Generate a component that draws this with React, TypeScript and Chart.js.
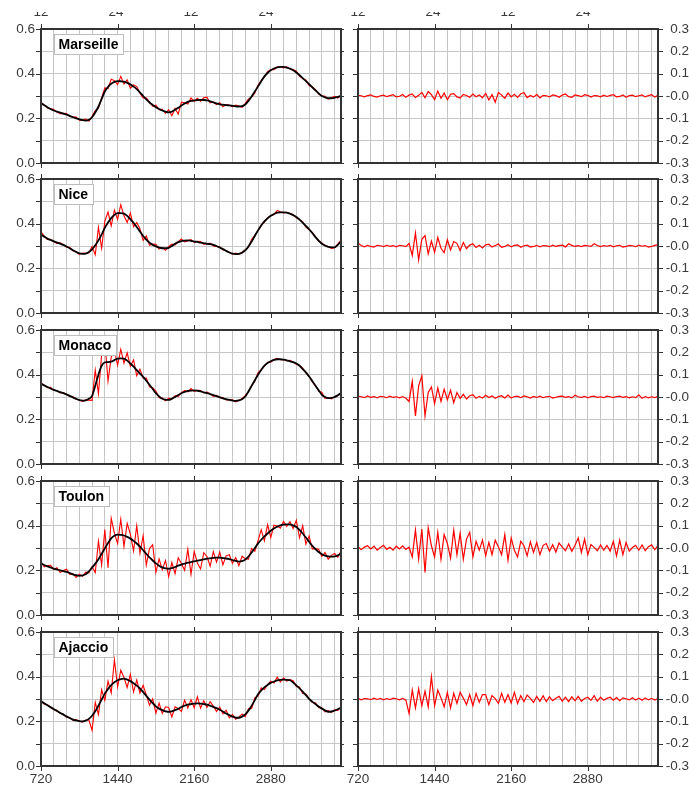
import React, { useEffect, useRef } from 'react';
import { Chart, registerables } from 'chart.js';

Chart.register(...registerables);

// ---------------- data ----------------
const STATIONS = ['Marseille', 'Nice', 'Monaco', 'Toulon', 'Ajaccio'];
const X_MIN = 720;
const X_MAX = 3540;
const X_STEP = 30;
const HOURS = Array.from({ length: 95 }, (_, i) => X_MIN + X_STEP * i);
const BOTTOM_TICK_VALUES = [720, 1440, 2160, 2880];
const TOP_TICK_LABELS = ['12', '24', '12', '24'];
const LEFT_TICK_LABELS = ['0.0', '0.2', '0.4', '0.6'];
const RIGHT_TICK_LABELS = ['-0.3', '-0.2', '-0.1', '-0.0', '0.1', '0.2', '0.3'];

const SMOOTH_MARSEILLE = [
  0.268, 0.259, 0.25, 0.242, 0.235, 0.23, 0.226, 0.221, 0.217, 0.211,
  0.205, 0.2, 0.196, 0.192, 0.19, 0.193, 0.205, 0.226, 0.253, 0.287,
  0.32, 0.341, 0.355, 0.363, 0.367, 0.366, 0.364, 0.359, 0.352, 0.342,
  0.331, 0.316, 0.3, 0.285, 0.271, 0.26, 0.25, 0.242, 0.235, 0.23,
  0.227, 0.23, 0.238, 0.247, 0.257, 0.266, 0.274, 0.278, 0.28, 0.282,
  0.283, 0.282, 0.28, 0.276, 0.271, 0.267, 0.263, 0.261, 0.259, 0.258,
  0.256, 0.254, 0.253, 0.255, 0.262, 0.278, 0.298, 0.32, 0.343, 0.366,
  0.388, 0.403, 0.415, 0.423, 0.428, 0.43, 0.43, 0.427, 0.423, 0.415,
  0.405, 0.393, 0.38, 0.367, 0.353, 0.339, 0.325, 0.312, 0.3, 0.294,
  0.29, 0.29, 0.292, 0.296, 0.3,
];
const RESID_MARSEILLE = [
  0.003, 0.001, -0.004, 0.002, 0.005, -0.002, -0.005, 0.001, 0.004, -0.003,
  0.002, 0.006, -0.004, -0.001, 0.007, -0.006, 0.004, 0.009, -0.007, 0.003,
  0.016, -0.008, 0.02, 0.006, -0.016, 0.022, -0.01, 0.013, -0.017, 0.008,
  0.011, -0.004, -0.009, 0.007, 0.002, -0.006, 0.009, -0.003, 0.005, -0.008,
  0.012, -0.018, 0.006, -0.028, 0.016, 0.004, -0.01, 0.013, -0.004, 0.008,
  -0.006, 0.01, 0.015, -0.007, 0.002, -0.005, 0.007, -0.009, 0.003, 0.001,
  -0.004, 0.005, 0.002, -0.006, 0.004, 0.009, -0.003, -0.006, 0.005, 0.002,
  -0.003, 0.006, 0.003, -0.005, 0.002, 0.001, -0.004, 0.004, -0.002, 0.003,
  0.006, -0.004, -0.002, 0.005, -0.006, 0.002, 0.004, -0.003, 0.001, 0.005,
  -0.004, 0.002, 0.006, -0.005, 0.003,
];

const SMOOTH_NICE = [
  0.351, 0.342, 0.333, 0.327, 0.321, 0.316, 0.311, 0.305, 0.298, 0.29,
  0.281, 0.273, 0.267, 0.265, 0.266, 0.273, 0.285, 0.303, 0.325, 0.352,
  0.381, 0.405, 0.425, 0.439, 0.447, 0.447, 0.445, 0.435, 0.42, 0.404,
  0.385, 0.365, 0.345, 0.329, 0.315, 0.305, 0.298, 0.293, 0.29, 0.29,
  0.292, 0.3, 0.31, 0.317, 0.322, 0.324, 0.325, 0.323, 0.32, 0.318,
  0.315, 0.313, 0.31, 0.308, 0.305, 0.3, 0.293, 0.286, 0.278, 0.271,
  0.266, 0.264, 0.265, 0.27, 0.28, 0.298, 0.32, 0.345, 0.37, 0.392,
  0.41, 0.424, 0.435, 0.443, 0.449, 0.451, 0.451, 0.449, 0.445, 0.438,
  0.43, 0.418, 0.405, 0.39, 0.375, 0.358, 0.34, 0.324, 0.31, 0.302,
  0.296, 0.294, 0.294, 0.305, 0.32,
];
const RESID_NICE = [
  0.012, 0.002, -0.004, 0.003, -0.002, -0.005, 0.003, 0.001, -0.003, 0.004,
  -0.002, 0.002, -0.004, 0.003, 0.001, -0.003, 0.012, -0.042, 0.058, -0.062,
  0.03, 0.047, -0.035, 0.022, -0.028, 0.038, -0.01, -0.03, 0.028, -0.018,
  0.02, 0.012, -0.02, 0.016, -0.012, 0.004, 0.01, -0.007, 0.003, -0.009,
  0.005, 0.008, -0.005, 0.002, 0.009, -0.006, -0.002, 0.006, -0.004, 0.003,
  0.005, -0.006, 0.001, 0.004, -0.005, -0.002, 0.003, -0.004, 0.002, 0.001,
  -0.003, 0.004, -0.002, 0.002, 0.004, -0.004, 0.01, 0.003, -0.002, 0.002,
  -0.003, 0.003, 0.001, -0.002, 0.01, 0.002, -0.003, 0.002, -0.001, 0.003,
  -0.004, 0.001, 0.003, -0.005, -0.002, 0.003, 0.001, -0.003, 0.004, -0.001,
  0.002, -0.005, -0.002, 0.003, 0.006,
];

const SMOOTH_MONACO = [
  0.359, 0.352, 0.345, 0.338, 0.332, 0.327, 0.322, 0.317, 0.312, 0.305,
  0.298, 0.292, 0.286, 0.284, 0.285, 0.292, 0.305, 0.35, 0.4, 0.44,
  0.455, 0.456, 0.458, 0.465, 0.472, 0.473, 0.472, 0.463, 0.45, 0.436,
  0.42, 0.405, 0.39, 0.373, 0.355, 0.336, 0.317, 0.303, 0.292, 0.288,
  0.287, 0.292, 0.3, 0.309, 0.317, 0.323, 0.327, 0.329, 0.33, 0.328,
  0.325, 0.321, 0.317, 0.313, 0.308, 0.304, 0.299, 0.294, 0.29, 0.287,
  0.284, 0.283, 0.285, 0.29, 0.302, 0.325, 0.35, 0.375, 0.4, 0.421,
  0.44, 0.452, 0.46, 0.466, 0.469, 0.469, 0.467, 0.464, 0.46, 0.456,
  0.45, 0.44, 0.425, 0.41, 0.392, 0.372, 0.35, 0.33, 0.31, 0.3,
  0.295, 0.296, 0.3, 0.308, 0.317,
];
const RESID_MONACO = [
  0.004, 0.001, -0.003, 0.005, -0.002, 0.002, -0.004, 0.003, 0.001, -0.003,
  0.004, -0.002, 0.001, -0.004, 0.002, -0.006, -0.02, 0.07, -0.085, 0.05,
  0.095, -0.085, 0.02, 0.045, -0.03, 0.04, -0.02, 0.035, -0.012, 0.03,
  -0.025, 0.02, -0.006, 0.012, -0.009, 0.006, 0.01, -0.006, 0.003, -0.005,
  0.008, -0.002, 0.005, -0.006, 0.002, 0.006, -0.004, 0.009, -0.005, 0.002,
  0.004, -0.003, 0.005, 0.001, -0.005, 0.003, -0.002, 0.004, -0.003, 0.001,
  0.003, -0.005, -0.001, 0.003, 0.004, -0.002, 0.002, -0.004, 0.008, 0.001,
  -0.002, 0.003, -0.004, 0.002, 0.004, -0.002, 0.001, -0.003, 0.004, 0.001,
  -0.003, 0.002, 0.004, -0.002, 0.002, -0.004, 0.001, -0.003, 0.01, -0.006,
  0.002, -0.004, 0.001, -0.003, 0.004,
];

const SMOOTH_TOULON = [
  0.231, 0.224, 0.218, 0.213, 0.208, 0.204, 0.2, 0.197, 0.193, 0.188,
  0.182, 0.178, 0.175, 0.177, 0.182, 0.195, 0.212, 0.23, 0.25, 0.274,
  0.298, 0.322, 0.343, 0.355, 0.36, 0.359, 0.356, 0.35, 0.342, 0.332,
  0.32, 0.306, 0.29, 0.274, 0.258, 0.244, 0.231, 0.221, 0.213, 0.209,
  0.207, 0.21, 0.215, 0.221, 0.226, 0.23, 0.234, 0.237, 0.24, 0.243,
  0.246, 0.249, 0.252, 0.254, 0.256, 0.257, 0.257, 0.255, 0.253, 0.25,
  0.246, 0.242, 0.239, 0.241, 0.248, 0.262, 0.28, 0.3, 0.32, 0.337,
  0.352, 0.365, 0.377, 0.387, 0.395, 0.401, 0.405, 0.406, 0.406, 0.401,
  0.394, 0.381, 0.365, 0.347, 0.328, 0.31, 0.295, 0.282, 0.272, 0.266,
  0.262, 0.261, 0.262, 0.267, 0.275,
];
const RESID_TOULON = [
  0.006, -0.008, 0.004, 0.01, -0.004, 0.008, -0.01, 0.002, 0.012, -0.006,
  0.003, -0.01, 0.008, -0.004, 0.01, -0.006, 0.004, -0.04, 0.08, -0.05,
  0.085, -0.11, 0.09, 0.01, -0.04, 0.07, -0.05, 0.06, 0.02, -0.045,
  0.08, -0.03, 0.065, -0.05, 0.04, 0.07, -0.04, 0.03, -0.01, 0.035,
  -0.035, 0.025, -0.03, 0.035, 0.005, -0.03, 0.06, -0.055, 0.045, -0.01,
  -0.04, 0.03, 0.01, -0.035, 0.028, -0.02, 0.025, -0.03, 0.012, 0.02,
  -0.015, 0.015, -0.018, 0.022, 0.004, -0.012, 0.018, -0.015, 0.012, 0.045,
  -0.02, 0.04, -0.03, 0.015, 0.003, -0.012, 0.014, -0.01, 0.012, -0.014,
  0.03, -0.035, 0.035, -0.03, 0.025, -0.014, 0.002, 0.012, -0.01, 0.014,
  -0.012, 0.006, 0.014, -0.008, 0.012,
];

const SMOOTH_AJACCIO = [
  0.29, 0.281, 0.272, 0.263, 0.255, 0.246, 0.238, 0.23, 0.222, 0.215,
  0.208, 0.204, 0.201, 0.2, 0.203, 0.211, 0.225, 0.245, 0.27, 0.297,
  0.324, 0.345, 0.362, 0.375, 0.384, 0.389, 0.391, 0.387, 0.38, 0.371,
  0.36, 0.347, 0.331, 0.314, 0.297, 0.281, 0.267, 0.257, 0.25, 0.245,
  0.242, 0.245, 0.25, 0.256, 0.264, 0.27, 0.275, 0.277, 0.279, 0.28,
  0.279, 0.277, 0.275, 0.27, 0.265, 0.259, 0.252, 0.244, 0.235, 0.228,
  0.221, 0.217, 0.216, 0.221, 0.231, 0.248, 0.27, 0.295, 0.321, 0.338,
  0.352, 0.363, 0.372, 0.378, 0.383, 0.386, 0.387, 0.386, 0.384, 0.374,
  0.361, 0.348, 0.333, 0.317, 0.301, 0.288, 0.277, 0.266, 0.257, 0.249,
  0.243, 0.244, 0.248, 0.254, 0.261,
];
const RESID_AJACCIO = [
  0.003, -0.004, 0.002, 0.001, -0.003, 0.004, -0.002, 0.003, -0.004, 0.002,
  -0.003, 0.004, 0.001, -0.004, 0.003, -0.005, -0.065, 0.04, -0.04, 0.045,
  -0.03, 0.035, -0.035, 0.1, -0.03, 0.04, 0.005, -0.035, 0.03, -0.04,
  0.025, -0.02, 0.03, 0.004, -0.025, 0.02, -0.03, 0.025, -0.015, 0.02,
  0.02, -0.025, 0.015, 0.002, -0.02, 0.025, -0.015, 0.02, -0.018, 0.03,
  -0.02, 0.015, -0.012, 0.018, 0.003, -0.015, 0.012, -0.01, 0.015, -0.012,
  0.01, -0.008, 0.003, 0.012, -0.01, 0.008, -0.012, 0.01, -0.008, 0.012,
  -0.01, 0.002, 0.008, -0.006, 0.015, -0.01, 0.008, -0.006, 0.003, 0.008,
  -0.005, 0.006, -0.008, 0.005, 0.001, -0.004, 0.006, -0.005, 0.004, -0.006,
  0.005, -0.004, 0.003, -0.005, 0.002,
];

const SMOOTH = [SMOOTH_MARSEILLE, SMOOTH_NICE, SMOOTH_MONACO, SMOOTH_TOULON, SMOOTH_AJACCIO];
const RESID = [RESID_MARSEILLE, RESID_NICE, RESID_MONACO, RESID_TOULON, RESID_AJACCIO];

// ---------------- layout / style ----------------
const ROW_TOPS = [29, 179, 330, 481, 632];
const PLOT_H = 134;
const FONT_FAMILY = "'Liberation Sans', Arial, Helvetica, sans-serif";
const TICK_FONT = { family: FONT_FAMILY, size: 13.5 };
const TICK_COLOR = '#3a3a3a';
const GRID_COLOR = '#c6c6c6';
const FRAME_COLOR = '#333333';

function zeroPad(s: any) {
  s.paddingTop = 0;
  s.paddingBottom = 0;
  s.paddingLeft = 0;
  s.paddingRight = 0;
}

type Side = 'left' | 'right';

function Panel({ row, side }: { row: number; side: Side }) {
  const ref = useRef<HTMLCanvasElement | null>(null);
  const isTop = row === 0;
  const isBottom = row === 4;
  const padTop = isTop ? 17 : 9;
  const padBottom = isBottom ? 19 : 8;
  const plotTop = ROW_TOPS[row];
  const canvasLeft = side === 'left' ? 0 : 344;
  const width = side === 'left' ? 344 : 345;
  const height = padTop + PLOT_H + padBottom;

  useEffect(() => {
    const canvas = ref.current;
    if (!canvas) return;
    const smooth = SMOOTH[row];
    const resid = RESID[row];
    const station = STATIONS[row];

    const datasets: any[] =
      side === 'left'
        ? [
            {
              data: HOURS.map((x, i) => ({ x, y: smooth[i] })),
              borderColor: '#000000',
              borderWidth: 1.8,
              pointRadius: 0,
              cubicInterpolationMode: 'monotone',
            },
            {
              data: HOURS.map((x, i) => ({ x, y: smooth[i] + resid[i] })),
              borderColor: '#ff0000',
              borderWidth: 1.1,
              pointRadius: 0,
              tension: 0,
            },
          ]
        : [
            {
              data: HOURS.map((x, i) => ({ x, y: resid[i] })),
              borderColor: '#ff0000',
              borderWidth: 1.2,
              pointRadius: 0,
              tension: 0,
            },
          ];

    const framePlugin = {
      id: 'frame' + row + side,
      afterDatasetsDraw(chart: any) {
        if (side !== 'left') return;
        const { ctx, chartArea: a } = chart;
        ctx.save();
        ctx.font = `bold 14px ${FONT_FAMILY}`;
        const tw = ctx.measureText(station).width;
        const bx = a.left + 13;
        const by = a.top + 5;
        const bw = Math.round(tw + 9);
        const bh = 20;
        ctx.fillStyle = '#ffffff';
        ctx.fillRect(bx, by, bw, bh);
        ctx.strokeStyle = '#bdbdbd';
        ctx.lineWidth = 1;
        ctx.strokeRect(bx + 0.5, by + 0.5, bw, bh);
        ctx.fillStyle = '#000000';
        ctx.textBaseline = 'middle';
        ctx.textAlign = 'left';
        ctx.fillText(station, bx + 4.5, by + bh / 2 + 1);
        ctx.restore();
      },
      afterDraw(chart: any) {
        const { ctx, chartArea: a, scales } = chart;
        ctx.save();
        ctx.strokeStyle = FRAME_COLOR;
        ctx.lineWidth = 1;
        ctx.beginPath();
        for (const v of BOTTOM_TICK_VALUES) {
          const px = Math.round(scales.x.getPixelForValue(v)) + 0.5;
          ctx.moveTo(px, a.bottom);
          ctx.lineTo(px, a.bottom + 5);
          ctx.moveTo(px, a.top);
          ctx.lineTo(px, a.top - 5);
        }
        for (const t of scales.y.ticks) {
          const py = Math.round(scales.y.getPixelForValue(t.value)) + 0.5;
          ctx.moveTo(a.left - 5, py);
          ctx.lineTo(a.left, py);
          ctx.moveTo(a.right, py);
          ctx.lineTo(a.right + 5, py);
        }
        ctx.stroke();
        ctx.lineWidth = 2;
        ctx.strokeRect(a.left, a.top, a.right - a.left, a.bottom - a.top);
        ctx.restore();
      },
    };

    const scales: any = {
      x: {
        type: 'linear',
        position: 'bottom',
        min: X_MIN,
        max: X_MAX,
        border: { display: false },
        grid: { color: GRID_COLOR, lineWidth: 1, drawTicks: false },
        ticks: {
          display: isBottom,
          stepSize: 120,
          includeBounds: false,
          autoSkip: false,
          maxRotation: 0,
          minRotation: 0,
          padding: 5,
          font: TICK_FONT,
          color: TICK_COLOR,
          callback: (v: any) => (BOTTOM_TICK_VALUES.indexOf(Math.round(v)) >= 0 ? String(Math.round(v)) : ''),
        },
        afterFit: (s: any) => {
          s.height = padBottom;
          zeroPad(s);
        },
      },
      y:
        side === 'left'
          ? {
              type: 'linear',
              position: 'left',
              min: 0,
              max: 0.6,
              border: { display: false },
              grid: { color: GRID_COLOR, lineWidth: 1, drawTicks: false },
              ticks: {
                stepSize: 0.1,
                autoSkip: false,
                padding: 6,
                font: TICK_FONT,
                color: TICK_COLOR,
                callback: (v: any) => {
                  const k = Math.round(v * 10);
                  return k % 2 === 0 ? LEFT_TICK_LABELS[k / 2] : '';
                },
              },
              afterFit: (s: any) => {
                s.width = 41;
                zeroPad(s);
              },
            }
          : {
              type: 'linear',
              position: 'right',
              min: -0.3,
              max: 0.3,
              border: { display: false },
              grid: { color: GRID_COLOR, lineWidth: 1, drawTicks: false },
              ticks: {
                stepSize: 0.1,
                autoSkip: false,
                padding: 9,
                crossAlign: 'far',
                font: TICK_FONT,
                color: TICK_COLOR,
                callback: (v: any) => RIGHT_TICK_LABELS[Math.round(v * 10) + 3] ?? '',
              },
              afterFit: (s: any) => {
                s.width = 31;
                zeroPad(s);
              },
            },
    };
    if (isTop) {
      scales.x2 = {
        type: 'linear',
        position: 'top',
        min: X_MIN,
        max: X_MAX,
        border: { display: false },
        grid: { display: false, drawTicks: false },
        ticks: {
          stepSize: 720,
          includeBounds: false,
          autoSkip: false,
          maxRotation: 0,
          minRotation: 0,
          padding: 9,
          font: TICK_FONT,
          color: TICK_COLOR,
          callback: (v: any) => TOP_TICK_LABELS[Math.round((v - X_MIN) / 720)] ?? '',
        },
        afterFit: (s: any) => {
          s.height = padTop;
          zeroPad(s);
        },
      };
    }

    const chart = new Chart(canvas, {
      type: 'line',
      data: { datasets },
      options: {
        animation: false,
        responsive: false,
        maintainAspectRatio: false,
        devicePixelRatio: 1,
        events: [],
        layout: {
          padding: {
            top: isTop ? 0 : padTop,
            bottom: 0,
            left: side === 'left' ? 0 : 14,
            right: side === 'left' ? 3 : 0,
          },
        },
        plugins: {
          legend: { display: false },
          tooltip: { enabled: false },
          title: { display: false },
        },
        scales,
      } as any,
      plugins: [framePlugin as any],
    });
    return () => chart.destroy();
  }, [row, side]);

  return (
    <canvas
      ref={ref}
      width={width}
      height={height}
      style={{
        position: 'absolute',
        left: canvasLeft,
        top: plotTop - padTop,
        width,
        height,
        display: 'block',
      }}
    />
  );
}

export default function App() {
  return (
    <div
      style={{
        position: 'absolute',
        left: 0,
        top: 0,
        width: 689,
        height: 785,
        overflow: 'hidden',
        background: '#ffffff',
      }}
    >
      {STATIONS.map((s, r) => (
        <React.Fragment key={s}>
          <Panel row={r} side="left" />
          <Panel row={r} side="right" />
        </React.Fragment>
      ))}
    </div>
  );
}
